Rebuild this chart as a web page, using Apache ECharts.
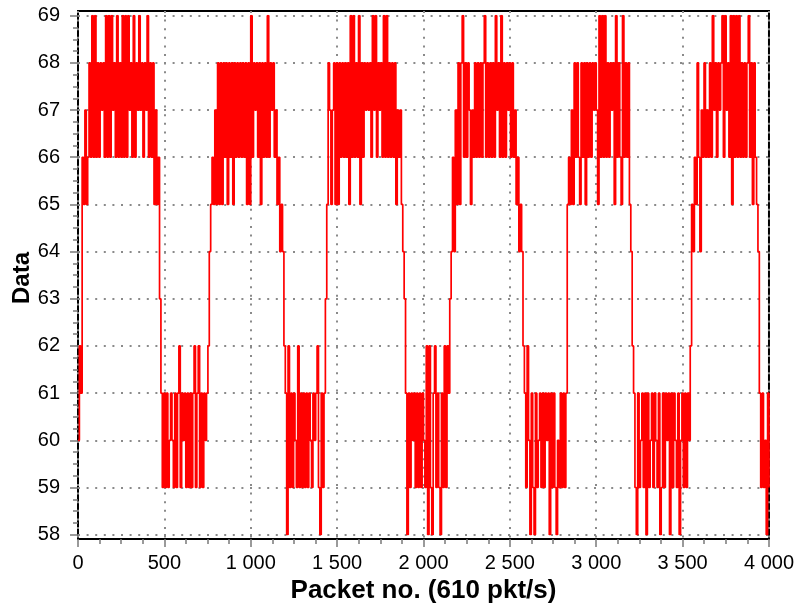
<!DOCTYPE html>
<html>
<head>
<meta charset="utf-8">
<script>
  // Finer path resolution so the short flat holds between samples are not dropped by the renderer.
  try { Object.defineProperty(window, 'devicePixelRatio', { value: 4, configurable: true }); } catch (e) {}
</script>
<script src="https://cdn.jsdelivr.net/npm/echarts@6/dist/echarts.min.js"></script>
<style>
  html, body { margin: 0; padding: 0; background: #fff; }
  #chart { width: 797px; height: 605px; }
</style>
</head>
<body>
<div id="chart"></div>
<script>
// Samples are stored every STEP packets; each value holds until the next sample.
const STEP = 8;

// Signal level per sample, one array per plateau (high / low phases).
const high1 = [60, 62, 61, 66, 65, 67, 65, 66,
  68, 66, 69, 66, 69, 66, 68, 66, 68, 67,
  68, 66, 69, 66, 69, 66, 69, 67, 68, 66,
  69, 66, 68, 66, 69, 66, 69, 66, 69, 67,
  68, 66, 69, 66, 68, 67, 69, 67, 68, 66,
  68, 67, 69, 66, 68, 66, 68, 65, 67, 65,
  66, 63];
const low1 = [61, 59, 61, 59, 61, 59, 60, 61, 60, 59,
  61, 59, 61, 62, 59, 61, 60, 61, 59, 61,
  59, 61, 59, 61, 62, 59, 61, 62, 59, 61,
  59, 61, 60, 61, 62];
const high2 = [64, 65, 66, 65, 67, 65, 68, 65, 68, 65,
  68, 66, 68, 65, 68, 66, 68, 65, 68, 66,
  68, 66, 68, 66, 68, 66, 68, 65, 68, 65,
  69, 66, 68, 67, 68, 66, 68, 65, 68, 66,
  68, 66, 69, 66, 68, 67, 68, 66, 67, 65,
  66, 64, 65, 64];
const low2 = [62, 61, 58, 62, 59, 61, 59, 61, 60, 59,
  62, 59, 61, 59, 61, 59, 61, 59, 61, 60,
  59, 61, 60, 61, 62, 59, 58, 61, 59, 61];
const high3 = [63, 65, 68, 67, 65, 67, 68, 65, 68, 65,
  68, 66, 68, 66, 68, 66, 68, 65, 69, 66,
  69, 66, 68, 66, 69, 65, 68, 66, 68, 67,
  68, 67, 68, 66, 69, 67, 69, 66, 68, 67,
  68, 66, 69, 66, 69, 66, 68, 66, 68, 66,
  68, 65, 67, 66, 67, 65, 64, 63];
const low3 = [61, 58, 61, 59, 61, 60, 61, 59, 61, 59,
  61, 59, 61, 60, 59, 62, 58, 62, 59, 58,
  61, 62, 59, 61, 59, 58, 61, 59, 62, 59,
  62, 61];
const high4 = [63, 64, 66, 64, 67, 65, 68, 65, 68, 69,
  66, 68, 66, 68, 67, 65, 67, 66, 68, 66,
  68, 66, 68, 66, 68, 69, 66, 68, 66, 68,
  66, 68, 66, 69, 67, 68, 66, 69, 66, 68,
  66, 68, 67, 68, 66, 68, 66, 67, 65, 66,
  64, 65, 64, 62];
const low4 = [61, 59, 62, 60, 58, 61, 59, 58, 61, 59,
  60, 61, 59, 61, 59, 61, 60, 61, 58, 61,
  59, 61, 59, 58, 60, 59, 61, 59, 61, 59,
  61];
const high5 = [65, 66, 65, 67, 65, 68, 66, 68, 66, 65,
  68, 66, 68, 65, 68, 66, 68, 66, 68, 67,
  68, 67, 65, 69, 66, 69, 66, 69, 66, 68,
  66, 68, 67, 68, 65, 69, 66, 68, 66, 65,
  69, 66, 68, 66, 68, 65, 64];
const low5 = [62, 61, 59, 58, 61, 59, 60, 61, 59, 61,
  58, 61, 59, 60, 61, 59, 61, 60, 59, 61,
  58, 59, 61, 59, 61, 60, 61, 58, 61, 59,
  61, 60, 59, 61, 58, 60, 61, 59, 61, 59,
  61, 60, 62];
const high6 = [65, 64, 66, 65, 68, 66, 64, 67, 66, 68,
  66, 67, 66, 68, 66, 69, 67, 68, 66, 68,
  67, 68, 69, 66, 69, 67, 68, 66, 69, 65,
  69, 66, 69, 66, 69, 66, 68, 66, 68, 66,
  68, 69, 66, 68, 65, 68, 66, 65, 64];
const low6 = [61, 59, 61, 59, 60, 58, 61, 59];

const phases = [high1, low1, high2, low2, high3, low3, high4, low4, high5, low5, high6, low6];

// Axis tick labels
const xTickLabels = ['0', '500', '1 000', '1 500', '2 000', '2 500', '3 000', '3 500', '4 000'];
const yTickLabels = ['58', '59', '60', '61', '62', '63', '64', '65', '66', '67', '68', '69'];

const X_MAX = 4000;
const samples = [].concat(...phases);
// sample-and-hold trace: each level is kept flat over its packet interval
const seriesData = [];
samples.forEach((v, i) => {
  const x0 = i * STEP;
  seriesData.push([x0, v]);
  if (x0 + STEP <= X_MAX) seriesData.push([x0 + STEP, v]);
});

const FONT = 'Liberation Sans, Arial, Helvetica, sans-serif';
const TICK_COLOR = '#7a7a7a';
const dotted = { type: [2, 6.6], width: 2, color: '#8a8a8a', cap: 'butt' };

const chart = echarts.init(document.getElementById('chart'), null, { renderer: 'canvas', devicePixelRatio: 1 });
chart.setOption({
  animation: false,
  backgroundColor: '#fff',
  grid: [
    // outer frame
    { left: 78, right: 28, top: 11, bottom: 66, show: true, borderColor: '#000', borderWidth: 2, backgroundColor: 'rgba(0,0,0,0)' },
    // plotting area for the levels 58..69
    { left: 78, right: 28, top: 15.7, bottom: 70.3 }
  ],
  xAxis: [
    {
      gridIndex: 0, type: 'value', min: 0, max: X_MAX, interval: 500,
      axisLine: { show: false },
      axisTick: { show: true, length: 8, lineStyle: { color: TICK_COLOR, width: 1.5 } },
      minorTick: { show: true, splitNumber: 4, length: 5, lineStyle: { color: TICK_COLOR, width: 1.5 } },
      axisLabel: {
        margin: 14, fontSize: 20, color: '#000', fontFamily: FONT,
        formatter: (v) => xTickLabels[Math.round(v / 500)]
      },
      splitLine: { show: true, lineStyle: dotted }
    },
    { gridIndex: 1, type: 'value', min: 0, max: X_MAX, show: false }
  ],
  yAxis: [
    { gridIndex: 0, type: 'value', min: 0, max: 1, show: false },
    {
      gridIndex: 1, type: 'value', min: 58, max: 69, interval: 1,
      axisLine: { show: false },
      axisTick: { show: true, length: 8, lineStyle: { color: TICK_COLOR, width: 1.5 } },
      minorTick: { show: true, splitNumber: 4, length: 5, lineStyle: { color: TICK_COLOR, width: 1.5 } },
      axisLabel: {
        margin: 18, fontSize: 20, color: '#000', fontFamily: FONT,
        formatter: (v) => yTickLabels[Math.round(v - 58)]
      },
      splitLine: { show: true, lineStyle: dotted }
    }
  ],
  // axis titles
  graphic: [
    {
      type: 'text', x: 423.5, y: 591,
      style: { text: 'Packet no. (610 pkt/s)', fill: '#000', font: 'bold 26px ' + FONT, textAlign: 'center', textVerticalAlign: 'middle' }
    },
    {
      type: 'text', x: 22, y: 278, rotation: Math.PI / 2,
      style: { text: 'Data', fill: '#000', font: 'bold 24px ' + FONT, textAlign: 'center', textVerticalAlign: 'middle' }
    }
  ],
  series: [{
    type: 'line',
    xAxisIndex: 1,
    yAxisIndex: 1,
    data: seriesData,
    showSymbol: false,
    symbol: 'none',
    lineStyle: { color: '#ff0000', width: 1.7 },
    z: 5
  }]
});
</script>
</body>
</html>
